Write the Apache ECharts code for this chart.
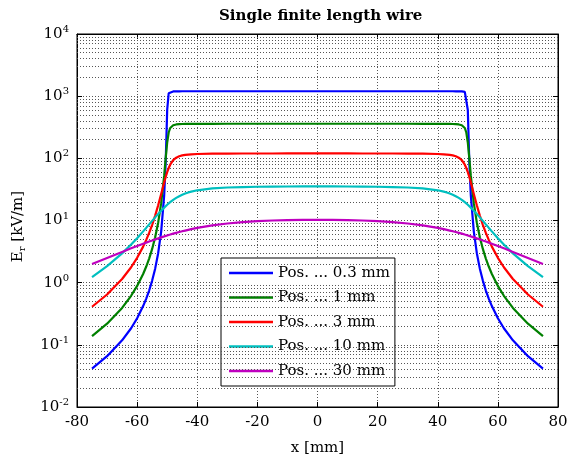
<!DOCTYPE html>
<html>
<head>
<meta charset="utf-8">
<script src="https://cdn.jsdelivr.net/npm/echarts@6/dist/echarts.min.js"></script>
<style>
  html, body { margin: 0; padding: 0; background: #fff; }
  #main { width: 575px; height: 461px; }
</style>
</head>
<body>
<div id="main"></div>
<script>
// x positions along the wire [mm]
var xs = [-75, -70, -65, -62, -60, -58, -57, -56, -55, -54, -53, -52, -51, -50.5, -50, -49.5, -49, -48, -47, -46, -45, -44, -43, -42, -40, -35, -30, -25, -20, -15, -10, -5, 0,
          5, 10, 15, 20, 25, 30, 35, 40, 42, 43, 44, 45, 46, 47, 48, 49, 49.5, 50, 50.5, 51, 52, 53, 54, 55, 56, 57, 58, 60, 62, 65, 70, 75];

// E_r [kV/m]
var pos03 = [0.0415, 0.0656, 0.118, 0.185, 0.268, 0.420, 0.549, 0.748, 1.08, 1.68, 2.98, 6.64, 25.3, 85.5, 600, 1114, 1175, 1193, 1197, 1198, 1199, 1199, 1200, 1200, 1200, 1200, 1200, 1200, 1200, 1200, 1200, 1200, 1200,
             1200, 1200, 1200, 1200, 1200, 1200, 1200, 1200, 1200, 1200, 1199, 1199, 1198, 1197, 1193, 1175, 1114, 600, 85.5, 25.3, 6.64, 2.98, 1.68, 1.08, 0.748, 0.549, 0.420, 0.268, 0.185, 0.118, 0.0656, 0.0415];
var pos1 = [0.138, 0.219, 0.392, 0.615, 0.886, 1.38, 1.80, 2.44, 3.49, 5.37, 9.23, 19.0, 52.7, 99.5, 180, 260.5, 307.3, 341.0, 350.8, 354.6, 356.5, 357.5, 358.2, 358.6, 359.1, 359.6, 359.8, 359.9, 359.9, 360, 360, 360, 360,
            360, 360, 360, 359.9, 359.9, 359.8, 359.6, 359.1, 358.6, 358.2, 357.5, 356.5, 354.6, 350.8, 341.0, 307.3, 260.5, 180, 99.5, 52.7, 19.0, 9.23, 5.37, 3.49, 2.44, 1.80, 1.38, 0.886, 0.615, 0.392, 0.219, 0.138];
var pos3 = [0.410, 0.645, 1.145, 1.77, 2.51, 3.80, 4.83, 6.31, 8.53, 11.98, 17.55, 26.7, 41.0, 50.1, 60.0, 69.8, 78.9, 93.3, 102.4, 108.0, 111.4, 113.6, 115.1, 116.2, 117.4, 118.8, 119.3, 119.5, 119.65, 119.7, 119.76, 119.78, 119.78,
            119.78, 119.76, 119.7, 119.65, 119.5, 119.3, 118.8, 117.4, 116.2, 115.1, 113.6, 111.4, 108.0, 102.4, 93.3, 78.9, 69.8, 60.0, 50.1, 41.0, 26.7, 17.55, 11.98, 8.53, 6.31, 4.83, 3.80, 2.51, 1.77, 1.145, 0.645, 0.410];
var pos10 = [1.23, 1.84, 2.96, 4.10, 5.20, 6.68, 7.60, 8.66, 9.87, 11.23, 12.74, 14.38, 16.12, 17.01, 17.91, 18.81, 19.70, 21.44, 23.08, 24.59, 25.95, 27.16, 28.22, 29.14, 30.62, 32.85, 33.96, 34.55, 34.90, 35.10, 35.22, 35.28, 35.30,
             35.28, 35.22, 35.10, 34.90, 34.55, 33.96, 32.85, 30.62, 29.14, 28.22, 27.16, 25.95, 24.59, 23.08, 21.44, 19.70, 18.81, 17.91, 17.01, 16.12, 14.38, 12.74, 11.23, 9.87, 8.66, 7.60, 6.68, 5.20, 4.10, 2.96, 1.84, 1.23];
var pos30 = [1.99, 2.49, 3.12, 3.57, 3.89, 4.24, 4.41, 4.60, 4.78, 4.97, 5.16, 5.36, 5.55, 5.65, 5.75, 5.84, 5.94, 6.14, 6.33, 6.52, 6.71, 6.89, 7.07, 7.25, 7.59, 8.34, 8.95, 9.41, 9.76, 10.00, 10.17, 10.26, 10.29,
             10.26, 10.17, 10.00, 9.76, 9.41, 8.95, 8.34, 7.59, 7.25, 7.07, 6.89, 6.71, 6.52, 6.33, 6.14, 5.94, 5.84, 5.75, 5.65, 5.55, 5.36, 5.16, 4.97, 4.78, 4.60, 4.41, 4.24, 3.89, 3.57, 3.12, 2.49, 1.99];

var names = ['Pos. ... 0.3 mm', 'Pos. ... 1 mm', 'Pos. ... 3 mm', 'Pos. ... 10 mm', 'Pos. ... 30 mm'];
var colors = ['#0000ff', '#008000', '#ff0000', '#00bfbf', '#bf00bf'];
var values = [pos03, pos1, pos3, pos10, pos30];

// log minor grid (2..9 in every decade)
var minorY = [];
for (var e = -2; e < 4; e++) {
  for (var m = 2; m <= 9; m++) {
    minorY.push({ yAxis: m * Math.pow(10, e) });
  }
}

var font = 'DejaVu Serif';
var dotted = { color: '#555', width: 1, type: [1, 2] };

var myChart = echarts.init(document.getElementById('main'), null, { renderer: 'canvas' });

var series = [];
for (var i = 0; i < values.length; i++) {
  var pts = [];
  for (var j = 0; j < xs.length; j++) pts.push([xs[j], values[i][j]]);
  series.push({
    name: names[i],
    type: 'line',
    data: pts,
    showSymbol: false,
    symbol: 'none',
    z: 5,
    lineStyle: { color: colors[i], width: 2.2 },
    itemStyle: { color: colors[i] }
  });
}
series.push({
  name: 'minor',
  type: 'line',
  data: [[0, 1]],
  symbol: 'none',
  lineStyle: { opacity: 0 },
  z: 1,
  silent: true,
  markLine: {
    silent: true,
    symbol: ['none', 'none'],
    label: { show: false },
    animation: false,
    lineStyle: dotted,
    data: minorY
  }
});

var option = {
  animation: false,
  backgroundColor: '#fff',
  title: {
    text: 'Single finite length wire',
    left: 214,
    top: 4,
    textStyle: { fontFamily: font, fontSize: 15, fontWeight: 'bold', color: '#000' }
  },
  grid: { left: 77, right: 17, top: 34, bottom: 48, show: true, borderColor: '#000', borderWidth: 1 },
  legend: {
    data: names,
    orient: 'vertical',
    left: 221,
    top: 258,
    backgroundColor: '#fff',
    borderColor: '#000',
    borderWidth: 1,
    padding: [5, 5, 5, 8],
    itemWidth: 44,
    itemHeight: 2.5,
    itemGap: 4.5,
    icon: 'rect',
    textStyle: { fontFamily: font, fontSize: 15, color: '#000', lineHeight: 20 }
  },
  xAxis: [{
    type: 'value',
    min: -80, max: 80, interval: 20,
    name: 'x [mm]',
    nameLocation: 'middle',
    nameGap: 34,
    nameTextStyle: { fontFamily: font, fontSize: 15, color: '#000' },
    axisLine: { onZero: false, lineStyle: { color: '#000' } },
    axisTick: { inside: true, length: 5, lineStyle: { color: '#000' } },
    axisLabel: { fontFamily: font, fontSize: 15, color: '#000', margin: 8 },
    splitLine: { show: true, lineStyle: dotted }
  }, {
    type: 'value', position: 'top',
    min: -80, max: 80, interval: 20,
    axisLine: { onZero: false, lineStyle: { color: '#000' } },
    axisTick: { inside: true, length: 5, lineStyle: { color: '#000' } },
    axisLabel: { show: false },
    splitLine: { show: false }
  }],
  yAxis: [{
    type: 'log',
    logBase: 10,
    min: 0.01, max: 10000,
    name: 'E{sub|r} [kV/m]',
    nameLocation: 'middle',
    nameGap: 50,
    nameTextStyle: {
      fontFamily: font, fontSize: 15, color: '#000',
      padding: [0, 12, 0, 0],
      rich: { sub: { fontFamily: font, fontSize: 10, color: '#000', verticalAlign: 'top', padding: [8, 0, 0, 0] } }
    },
    axisLine: { show: true, onZero: false, lineStyle: { color: '#000' } },
    axisTick: { inside: true, length: 5, lineStyle: { color: '#000' } },
    axisLabel: {
      margin: 8,
      formatter: function (v) {
        return '{b|10}{sup|' + Math.round(Math.log10(v)) + '}';
      },
      rich: {
        b: { fontFamily: font, fontSize: 15, color: '#000' },
        sup: { fontFamily: font, fontSize: 10, color: '#000', verticalAlign: 'bottom', padding: [0, 0, 9, 0] }
      }
    },
    splitLine: { show: true, lineStyle: dotted }
  }, {
    type: 'log',
    logBase: 10,
    min: 0.01, max: 10000,
    position: 'right',
    axisLine: { show: true, onZero: false, lineStyle: { color: '#000' } },
    axisTick: { inside: true, length: 5, lineStyle: { color: '#000' } },
    axisLabel: { show: false },
    splitLine: { show: false }
  }],
  series: series
};
myChart.setOption(option);
</script>
</body>
</html>
